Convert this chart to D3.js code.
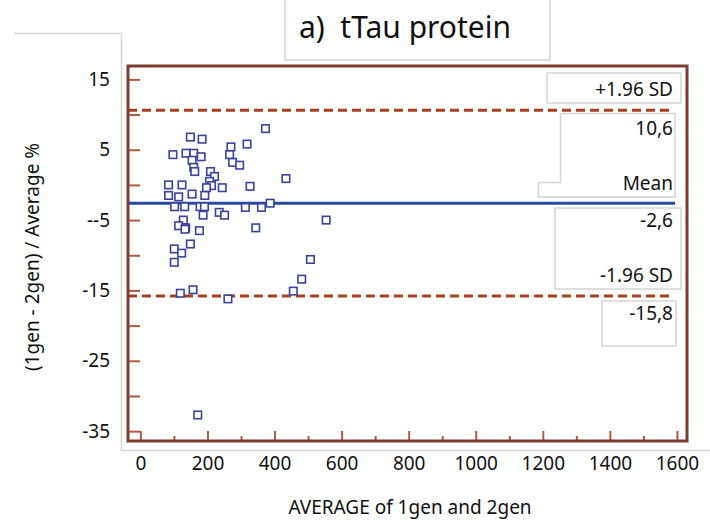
<!DOCTYPE html>
<html>
<head>
<meta charset="utf-8">
<script src="https://cdn.jsdelivr.net/npm/d3@7"></script>
<style>
  body { margin: 0; background: #fff; }
  text { font-family: 'Noto Sans', Roboto, sans-serif; fill: #111; }
</style>
</head>
<body>
<div id="chart"></div>
<script>
//
// Data
//
const avgValues = [149, 184, 97, 136, 159, 181, 154, 159, 162, 270, 266, 275, 296, 318, 209, 221, 206, 212, 197, 244,
  84, 124, 84, 114, 154, 192, 102, 132, 178, 191, 187, 235, 251, 128, 114, 135, 133, 176, 149, 101,
  123, 101, 119, 157, 261, 373, 434, 327, 313, 361, 387, 344, 554, 507, 481, 456, 171]
const diffValues = [6.8, 6.5, 4.3, 4.5, 4.5, 4.0, 3.5, 2.5, 1.9, 5.4, 4.3, 3.2, 2.8, 5.8, 1.9, 1.2, 0.5, -0.1, -0.4, -0.4,
  0, 0, -1.5, -1.7, -1.3, -1.5, -3.1, -3.1, -3.1, -3.1, -4.3, -3.9, -4.3, -5.0, -5.8, -6.1, -6.3, -6.5, -8.4, -9.1,
  -9.7, -11.0, -15.4, -14.9, -16.2, 8.0, 0.9, -0.2, -3.2, -3.2, -2.6, -6.1, -5.0, -10.6, -13.4, -15.1, -32.7]
const meanDiff = -2.6
const upperLimit = 10.6
const lowerLimit = -15.8
const yTickValues = [15, 5, -5, -15, -25, -35]
const yTickLabels = ['15', '5', '--5', '-15', '-25', '-35']
const yMinorTicks = [10, 0, -10, -20, -30]
const xTickValues = [0, 200, 400, 600, 800, 1000, 1200, 1400, 1600]
const xMinorTicks = [100, 300, 500, 700, 900, 1100, 1300, 1500]

const width = 710
const height = 520
const frame = { left: 128, right: 687, top: 66, bottom: 441 }
const fontSize = '19px'

const svg = d3.select('#chart').append('svg')
  .attr('width', width)
  .attr('height', height)

const x = d3.scaleLinear().domain([-37, 1630]).range([frame.left, frame.right])
const y = d3.scaleLinear().domain([-36.4, 16.9]).range([frame.bottom, frame.top])

// light grey panel outlines
const grey = '#d4d4d4'
svg.append('path')
  .attr('d', `M14,33.5 H121.5 V450.5 H710`)
  .attr('fill', 'none').attr('stroke', grey).attr('stroke-width', 1.5)
svg.append('path')
  .attr('d', `M285,0 V60 H550 V0`)
  .attr('fill', 'none').attr('stroke', grey).attr('stroke-width', 1.5)

// title
svg.append('text')
  .attr('x', 405).attr('y', 38)
  .attr('text-anchor', 'middle')
  .style('font-size', '30px')
  .style('white-space', 'pre')
  .text('a)  tTau protein')

// axes
const tickColor = '#b15a45'
const yAxis = svg.append('g')
  .attr('transform', `translate(${frame.left},0)`)
  .call(d3.axisLeft(y).tickValues(yTickValues).tickSize(-12).tickPadding(18)
    .tickFormat((d, i) => yTickLabels[i]))
const yMinor = svg.append('g')
  .attr('transform', `translate(${frame.left},0)`)
  .call(d3.axisLeft(y).tickValues(yMinorTicks).tickSize(-12).tickFormat(''))
const xAxis = svg.append('g')
  .attr('transform', `translate(0,${frame.bottom})`)
  .call(d3.axisBottom(x).tickValues(xTickValues).tickSize(-10).tickPadding(16).tickFormat(d3.format('d')))
const xMinor = svg.append('g')
  .attr('transform', `translate(0,${frame.bottom})`)
  .call(d3.axisBottom(x).tickValues(xMinorTicks).tickSize(-5).tickFormat(''))

;[yAxis, yMinor, xAxis, xMinor].forEach(g => {
  g.select('.domain').remove()
  g.selectAll('line').attr('stroke', tickColor).attr('stroke-width', 2)
  g.selectAll('text').style('font-size', fontSize).style('font-family', "'Noto Sans', sans-serif").attr('fill', '#111')
})

// axis titles
svg.append('text')
  .attr('x', 410).attr('y', 514)
  .attr('text-anchor', 'middle')
  .style('font-size', fontSize)
  .text('AVERAGE of 1gen and 2gen')
svg.append('text')
  .attr('transform', 'translate(39,257) rotate(-90)')
  .attr('text-anchor', 'middle')
  .style('font-size', fontSize)
  .text('(1gen - 2gen) / Average %')

// label boxes on the right
const boxes = [
  [547, 73, 134, 30],
  [555, 208, 126, 81],
  [602, 301, 74, 45]
]
svg.append('g').selectAll('rect').data(boxes).join('rect')
  .attr('x', d => d[0]).attr('y', d => d[1])
  .attr('width', d => d[2]).attr('height', d => d[3])
  .attr('fill', '#fff').attr('stroke', grey).attr('stroke-width', 1.5)
svg.append('path')
  .attr('d', 'M560.5,182.5 V113.5 H675 V197 H538.5 V182.5 Z')
  .attr('fill', '#fff').attr('stroke', grey).attr('stroke-width', 1.5)

// reference lines
svg.append('line')
  .attr('x1', frame.left).attr('x2', 672)
  .attr('y1', y(upperLimit)).attr('y2', y(upperLimit))
  .attr('stroke', '#a8401f').attr('stroke-width', 3).attr('stroke-dasharray', '9,5')
svg.append('line')
  .attr('x1', frame.left).attr('x2', 672)
  .attr('y1', y(lowerLimit)).attr('y2', y(lowerLimit))
  .attr('stroke', '#a8401f').attr('stroke-width', 3).attr('stroke-dasharray', '9,5')
svg.append('line')
  .attr('x1', frame.left).attr('x2', 675)
  .attr('y1', y(meanDiff)).attr('y2', y(meanDiff))
  .attr('stroke', '#2b4ba0').attr('stroke-width', 3)

// right labels
const fmt = v => v.toFixed(1).replace('.', ',')
const labels = [
  ['+1.96 SD', y(upperLimit) - 14],
  [fmt(upperLimit), y(upperLimit) + 25],
  ['Mean', y(meanDiff) - 13],
  [fmt(meanDiff), y(meanDiff) + 24],
  ['-1.96 SD', y(lowerLimit) - 14],
  [fmt(lowerLimit), y(lowerLimit) + 24]
]
svg.append('g').selectAll('text').data(labels).join('text')
  .attr('x', 673).attr('y', d => d[1])
  .attr('text-anchor', 'end')
  .style('font-size', fontSize)
  .text(d => d[0])

// points
const points = avgValues.map((a, i) => ({ a, d: diffValues[i] }))
svg.append('g').selectAll('rect').data(points).join('rect')
  .attr('x', p => x(p.a) - 3.75).attr('y', p => y(p.d) - 3.75)
  .attr('width', 7.5).attr('height', 7.5)
  .attr('fill', '#fff').attr('stroke', '#3a429e').attr('stroke-width', 1.6)

// plot frame
svg.append('rect')
  .attr('x', frame.left).attr('y', frame.top)
  .attr('width', frame.right - frame.left).attr('height', frame.bottom - frame.top)
  .attr('fill', 'none').attr('stroke', '#7b3c31').attr('stroke-width', 3)
</script>
</body>
</html>
